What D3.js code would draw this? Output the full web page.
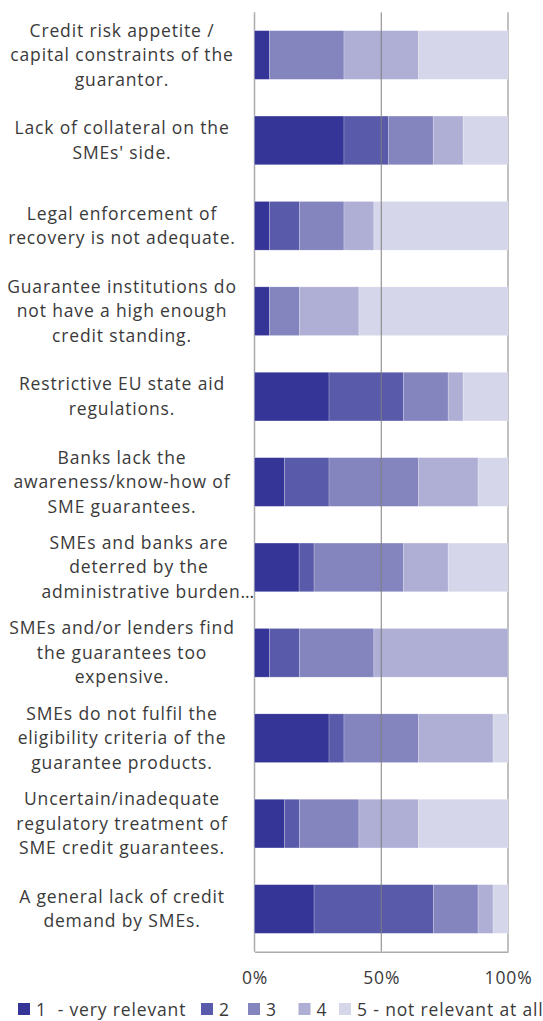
<!DOCTYPE html>
<html><head><meta charset="utf-8">
<script src="https://cdn.jsdelivr.net/npm/d3@7"></script>
<style>body{margin:0;background:#fff}svg{display:block}text{font-family:"Open Sans",sans-serif;fill:#3a3a3a}</style>
</head><body>
<script>
const categories = [
  ["Credit risk appetite /","capital constraints of the","guarantor."],
  ["Lack of collateral on the","SMEs' side."],
  ["Legal enforcement of","recovery is not adequate."],
  ["Guarantee institutions do","not have a high enough","credit standing."],
  ["Restrictive EU state aid","regulations."],
  ["Banks lack the","awareness/know-how of","SME guarantees."],
  ["SMEs and banks are","deterred by the","administrative burden…"],
  ["SMEs and/or lenders find","the guarantees too","expensive."],
  ["SMEs do not fulfil the","eligibility criteria of the","guarantee products."],
  ["Uncertain/inadequate","regulatory treatment of","SME credit guarantees."],
  ["A general lack of credit","demand by SMEs."]
];
const seriesNames = ["1  - very relevant","2","3","4","5 - not relevant at all"];
const s1 = [5.9,35.3,5.9,5.9,29.4,11.8,17.6,5.9,29.4,11.8,23.5];
const s2 = [0,17.6,11.8,0,29.4,17.6,5.9,11.8,5.9,5.9,47.1];
const s3 = [29.4,17.6,17.6,11.8,17.6,35.3,35.3,29.4,29.4,23.5,17.6];
const s4 = [29.4,11.8,11.8,23.5,5.9,23.5,17.6,52.9,29.4,23.5,5.9];
const s5 = [35.3,17.6,52.9,58.8,17.6,11.8,23.5,0,5.9,35.3,5.9];
const tickValues = [0,50,100];
const colors = ["#353597","#5a5aab","#8484bf","#afafd6","#d6d6eb"];

const W=543,H=1021;
const svg=d3.select("body").append("svg").attr("width",W).attr("height",H);
const x=d3.scaleLinear().domain([0,100]).range([254.5,508]);
const y=d3.scaleBand().domain(d3.range(categories.length)).range([12.3,951.7]).paddingInner(0.43).paddingOuter(0.215);

const rows=categories.map((c,i)=>({i,"0":s1[i],"1":s2[i],"2":s3[i],"3":s4[i],"4":s5[i]}));
const stack=d3.stack().keys(["0","1","2","3","4"])(rows);

svg.append("g").selectAll("line").data([0,100]).join("line")
  .attr("x1",d=>x(d)).attr("x2",d=>x(d)).attr("y1",12.3).attr("y2",951.7)
  .attr("stroke","#ababab").attr("stroke-width",1.5);

const g=svg.append("g");
stack.forEach((layer,k)=>{
  g.append("g").selectAll("rect").data(layer).join("rect")
    .attr("x",d=>x(d[0])).attr("width",d=>x(d[1])-x(d[0]))
    .attr("y",d=>y(d.data.i)).attr("height",y.bandwidth())
    .attr("fill",colors[k]).attr("stroke","rgba(255,255,255,0.35)").attr("stroke-width",0.6);
});

svg.append("g").selectAll("line").data([50]).join("line")
  .attr("x1",d=>x(d)).attr("x2",d=>x(d)).attr("y1",12.3).attr("y2",951.7)
  .attr("stroke","#7f7f7f").attr("stroke-width",1);

const FS="17.5px", LS="0.85px";
const ax=svg.append("g").attr("transform","translate(0,951.7)")
  .call(d3.axisBottom(x).tickValues(tickValues).tickFormat(d=>d+"%").tickSize(0).tickPadding(20));
ax.select(".domain").attr("stroke","#ababab").attr("stroke-width",1.5);
ax.selectAll("text").style("font-family","'Open Sans',sans-serif").style("font-size",FS).style("letter-spacing",LS).attr("fill","#3a3a3a");

const lab=svg.append("g");
categories.forEach((lines,i)=>{
  const cy=y(i)+y.bandwidth()/2;
  const n=lines.length;
  const trunc=lines[n-1].endsWith("…");
  lines.forEach((t,j)=>{
    const isLast=trunc&&j===n-1;
    lab.append("text")
      .attr("x",isLast?255:(trunc?139:122))
      .attr("y",cy+6+(j-(n-1)/2)*24.5)
      .attr("text-anchor",isLast?"end":"middle")
      .style("font-size",FS).style("letter-spacing",LS).text(t);
  });
});

const legX=[18,201,248,298.5,339];
const leg=svg.append("g");
seriesNames.forEach((s,k)=>{
  leg.append("rect").attr("x",legX[k]).attr("y",1003).attr("width",12).attr("height",12).attr("fill",colors[k]);
  leg.append("text").attr("x",legX[k]+18).attr("y",1015.5).style("font-size",FS).style("letter-spacing",LS).style("white-space","pre").attr("xml:space","preserve").text(s);
});
</script>
</body></html>
